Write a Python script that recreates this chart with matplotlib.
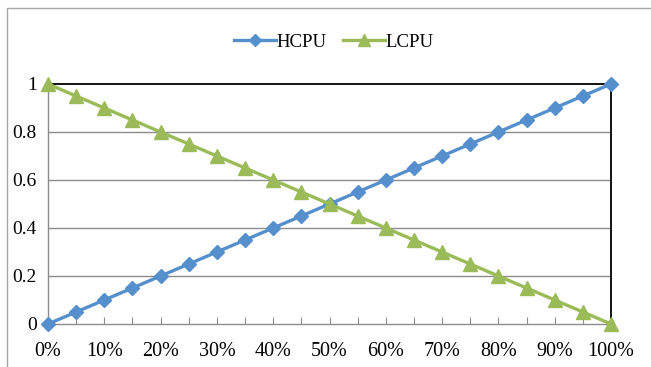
import matplotlib.pyplot as plt
from matplotlib.patches import Rectangle

share = [0, 5, 10, 15, 20, 25, 30, 35, 40, 45, 50, 55, 60, 65, 70, 75, 80, 85, 90, 95, 100]
hcpu = [0, 0.05, 0.1, 0.15, 0.2, 0.25, 0.3, 0.35, 0.4, 0.45, 0.5,
        0.55, 0.6, 0.65, 0.7, 0.75, 0.8, 0.85, 0.9, 0.95, 1]
lcpu = [1, 0.95, 0.9, 0.85, 0.8, 0.75, 0.7, 0.65, 0.6, 0.55, 0.5,
        0.45, 0.4, 0.35, 0.3, 0.25, 0.2, 0.15, 0.1, 0.05, 0]
xlabels = ['0%', '10%', '20%', '30%', '40%', '50%', '60%', '70%', '80%', '90%', '100%']
yticks = [0, 0.2, 0.4, 0.6, 0.8, 1]

plt.rcParams['font.family'] = ['Liberation Serif', 'DejaVu Serif']

fig = plt.figure(figsize=(6.51, 3.67), dpi=100)
# outer chart frame
fig.patches.append(Rectangle((7 / 651, -0.1), 1.0, 1 - 8 / 367 + 0.1, transform=fig.transFigure,
                             fill=False, edgecolor='#a6a6a6', linewidth=1.0))

ax = fig.add_axes([48 / 651, 1 - 324 / 367, (611 - 48) / 651, (324 - 84) / 367])

x = list(range(len(share)))
ax.plot(x, hcpu, color='#5590cc', linewidth=2.4, marker='D', markersize=7.5,
        label='HCPU', clip_on=False, zorder=3)
ax.plot(x, lcpu, color='#9bbb59', linewidth=2.4, marker='^', markersize=10,
        label='LCPU', clip_on=False, zorder=3)

ax.set_xlim(0, len(share) - 1)
ax.set_ylim(0, 1)

for y in yticks[1:-1]:
    ax.axhline(y, color='#8c8c8c', linewidth=1.0, zorder=1)

for s in ['top', 'right']:
    ax.spines[s].set_color('black')
    ax.spines[s].set_linewidth(1.3)
for s in ['left', 'bottom']:
    ax.spines[s].set_color('#8c8c8c')
    ax.spines[s].set_linewidth(1.0)

ax.set_yticks(yticks)
ax.set_yticklabels(['0', '0.2', '0.4', '0.6', '0.8', '1'])
ax.set_xticks(x)
ax.set_xticklabels([xlabels[i // 2] if i % 2 == 0 else '' for i in x])
ax.tick_params(axis='x', direction='in', length=5, color='#8c8c8c', labelsize=14.5, pad=13)
ax.tick_params(axis='y', length=0, labelsize=14, pad=8)

ax.legend(loc='center', bbox_to_anchor=(0.508, 1.175), ncol=2, frameon=False, fontsize=13.5,
          handlelength=2.2, handletextpad=0.05, columnspacing=0.9, markerscale=0.8)

fig.savefig('out.png', dpi=100)
